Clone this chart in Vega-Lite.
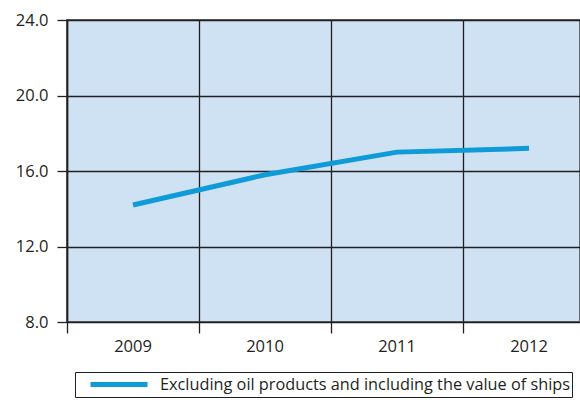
{
  "$schema": "https://vega.github.io/schema/vega-lite/v6.json",
  "autosize": {"type": "none"},
  "padding": {"left": 67, "top": 20, "right": 0, "bottom": 81},
  "width": 513,
  "height": 302,
  "background": "white",
  "config": {
    "font": "Open Sans",
    "view": {"fill": "#cfe2f3", "stroke": "#636569", "strokeWidth": 2}
  },
  "data": {
    "values": [
      {"year": "2009", "value": 14.2, "series": "Excluding oil products and including the value of ships"},
      {"year": "2010", "value": 15.8, "series": "Excluding oil products and including the value of ships"},
      {"year": "2011", "value": 17.0, "series": "Excluding oil products and including the value of ships"},
      {"year": "2012", "value": 17.2, "series": "Excluding oil products and including the value of ships"}
    ]
  },
  "mark": {"type": "line", "strokeWidth": 5, "strokeCap": "butt", "clip": false},
  "encoding": {
    "x": {
      "field": "year",
      "type": "ordinal",
      "scale": {"type": "band", "range": [0, 528], "paddingInner": 0, "paddingOuter": 0},
      "axis": {
        "title": null,
        "bandPosition": 0,
        "labelOffset": 0,
        "labelAngle": 0,
        "labelOverlap": false,
        "labelBound": false,
        "labelFlush": false,
        "labelFontSize": 16.5,
        "labelColor": "#231f20",
        "labelPadding": 5,
        "domain": false,
        "ticks": true,
        "tickSize": 11,
        "tickColor": "#231f20",
        "tickWidth": 1.3,
        "grid": true,
        "gridColor": "#231f20",
        "gridWidth": 1.3,
        "gridOpacity": 1
      }
    },
    "y": {
      "field": "value",
      "type": "quantitative",
      "scale": {"domain": [8, 24], "nice": false, "zero": false},
      "axis": {
        "title": null,
        "values": [8, 12, 16, 20, 24],
        "format": ".1f",
        "labelFontSize": 16.5,
        "labelColor": "#231f20",
        "labelPadding": 9,
        "domain": true,
        "domainColor": "#231f20",
        "domainWidth": 1.5,
        "ticks": true,
        "tickSize": 10,
        "tickColor": "#231f20",
        "tickWidth": 1.3,
        "grid": true,
        "gridColor": "#231f20",
        "gridWidth": 1.3,
        "gridOpacity": 1
      }
    },
    "color": {
      "field": "series",
      "type": "nominal",
      "scale": {"range": ["#0f9ad8"]},
      "legend": {
        "title": null,
        "orient": "none",
        "legendX": 8,
        "legendY": 352,
        "padding": 2,
        "fillColor": "white",
        "strokeColor": "#231f20",
        "symbolType": "M 0.375,0 L 7.5,0",
        "symbolSize": 256,
        "symbolStrokeWidth": 5,
        "symbolStrokeColor": "#0f9ad8",
        "labelOffset": 62,
        "labelFontSize": 16.3,
        "labelColor": "#231f20",
        "labelLimit": 700
      }
    }
  }
}
